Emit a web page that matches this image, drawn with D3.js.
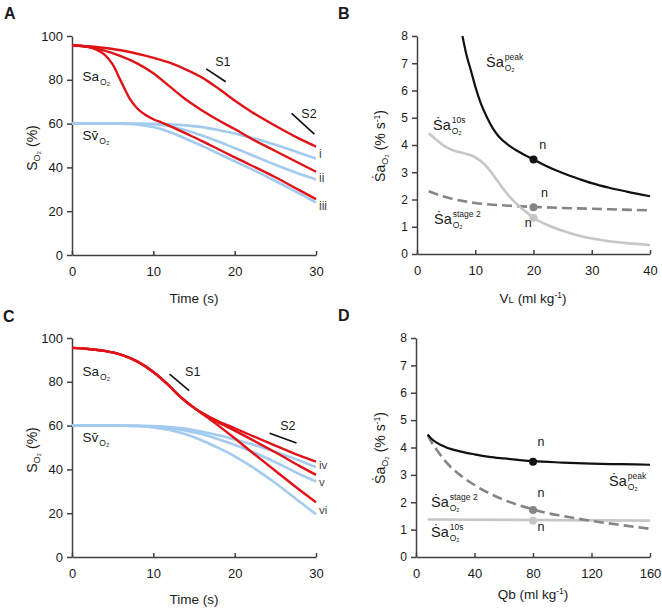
<!DOCTYPE html>
<html><head><meta charset="utf-8">
<script src="https://cdn.jsdelivr.net/npm/d3@7"></script>
<style>body{margin:0;background:#fff} text{font-family:"Liberation Sans",Arial,sans-serif;fill:#1a1a1a}</style>
</head><body><svg id="c" width="662" height="610"></svg>
<script>
// ---------- data ----------
const timeTicks=[0,10,20,30];
const satTicks=[0,20,40,60,80,100];
const vlTicks=[0,10,20,30,40];
const qbTicks=[0,40,80,120,160];
const rateTicks=[0,1,2,3,4,5,6,7,8];

// Panel A
const aSa_i=[[0,95.8],[3,95],[6,93.5],[9,91],[12,87.8],[14,84.7],[16,81],[18,76],[20,70.5],[22,65.5],[25,59],[28,53],[30,49.5]];
const aSa_ii=[[0,95.8],[2,95],[4,93.3],[6,90.8],[8,87.5],[10,83],[12,77],[14,71],[16,66],[18,61.5],[20,57.5],[22,53.2],[25,47.5],[28,41.8],[30,38]];
const aSa_iii=[[0,95.8],[2,95],[3,93.8],[4,91.5],[5,87],[6,79.5],[7,72],[8,67],[9,64],[10,62],[11,60.5],[12,59],[14,55.5],[16,52],[18,48.3],[20,44.6],[22,41],[25,35.5],[28,29.5],[30,25.5]];
const aSv_i=[[0,60],[6,60],[10,59.9],[12,59.7],[14,59.2],[16,58.4],[18,57.1],[20,55.5],[22,53.6],[25,50.3],[28,46.6],[30,44]];
const aSv_ii=[[0,60],[6,60],[8,59.95],[10,59.7],[12,58.8],[14,57],[16,54.6],[18,51.8],[20,48.8],[22,45.8],[25,41.2],[28,37],[30,34.5]];
const aSv_iii=[[0,60],[4,60],[6,59.9],[8,59.5],[10,58.4],[12,56.2],[14,53.1],[16,49.8],[18,46.3],[20,42.8],[22,39.3],[25,33.8],[28,28],[30,24]];
const aMarks=[{x1:16.5,y1:85,x2:18.9,y2:79.1,label:"S1",lx:17.6,ly:86.5},{x1:27,y1:64.7,x2:29.8,y2:55.2,label:"S2",lx:28.2,ly:62.6}];
const aRoman=[{t:"i",y:46},{t:"ii",y:35},{t:"iii",y:22.5}];

// Panel C
const cSa_iv=[[0,95.5],[2,95],[4,94.1],[6,92.4],[8,89.3],[10,84.5],[12,78],[13,74.3],[14,71],[15,68.2],[16,65.8],[17,63.8],[18,62],[20,58.8],[22,55.6],[25,50.9],[28,46.3],[30,43.5]];
const cSa_v=[[0,95.5],[2,95],[4,94.1],[6,92.4],[8,89.3],[10,84.5],[12,78],[13,74.3],[14,71],[15,68.2],[16,65.7],[17,63.5],[18,61.5],[20,57.7],[22,53.8],[25,47.8],[28,41.5],[30,37.5]];
const cSa_vi=[[0,95.5],[2,95],[4,94.1],[6,92.4],[8,89.3],[10,84.5],[12,78],[13,74.3],[14,71],[15,68.1],[16,65.4],[17,62.8],[18,60],[20,54.2],[22,48.2],[25,39.4],[28,30.6],[30,25]];
const cSv_iv=[[0,60],[6,60],[10,59.8],[12,59.3],[14,58.5],[16,57.2],[18,55.6],[20,53.7],[22,51.6],[25,48],[28,44],[30,41]];
const cSv_v=[[0,60],[6,60],[10,59.6],[12,58.9],[14,57.7],[16,56],[18,53.8],[20,51.2],[22,48.3],[25,43.3],[28,37.8],[30,34.5]];
const cSv_vi=[[0,60],[6,59.95],[8,59.8],[10,59.2],[12,58],[14,56],[16,53.2],[18,49.8],[20,46],[22,41.5],[25,33.8],[28,25.2],[30,19.5]];
const cMarks=[{x1:12,y1:83.5,x2:14.4,y2:76,label:"S1",lx:13.9,ly:82.5},{x1:24.3,y1:56.5,x2:27.6,y2:52,label:"S2",lx:25.6,ly:58}];
const cRoman=[{t:"iv",y:41.8},{t:"v",y:34.3},{t:"vi",y:21.5}];

// Panel B
const bPeak=[[7.8,8],[8.5,7.3],[9.3,6.7],[10,6.15],[11,5.5],[12,5.02],[13,4.62],[14,4.32],[16,3.95],[18,3.69],[20,3.47],[22,3.25],[25,2.97],[28,2.74],[30,2.6],[33,2.43],[36,2.29],[40,2.12]];
const b10s=[[2,4.43],[3,4.25],[4,4.07],[5,3.92],[6,3.82],[7,3.75],[8,3.7],[9,3.64],[10,3.55],[11,3.4],[12,3.2],[13,2.93],[14,2.63],[15,2.34],[16,2.08],[17,1.86],[18,1.67],[19,1.5],[20,1.33],[22,1.1],[25,0.85],[28,0.66],[30,0.57],[33,0.47],[36,0.4],[40,0.33]];
const bStage2=[[2,2.3],[4,2.15],[6,2.03],[8,1.94],[10,1.87],[13,1.81],[16,1.77],[20,1.73],[25,1.69],[30,1.66],[35,1.63],[40,1.6]];
const bPoints=[{x:20,y:3.47,c:"#111"},{x:20,y:1.72,c:"#858585"},{x:20,y:1.33,c:"#c6c6c6"}];
const bN=[{x:21,y:3.85},{x:21.3,y:2.1},{x:18.5,y:0.98}];

// Panel D
const dPeak=[[8,4.48],[10,4.35],[15,4.15],[20,4.02],[30,3.86],[40,3.75],[50,3.66],[60,3.6],[80,3.5],[100,3.45],[120,3.41],[140,3.39],[160,3.37]];
const dStage2=[[8,4.45],[10,4.25],[15,3.85],[20,3.5],[30,3.0],[40,2.63],[50,2.33],[60,2.09],[70,1.9],[80,1.74],[90,1.6],[100,1.5],[120,1.32],[140,1.17],[160,1.03]];
const d10s=[[8,1.37],[160,1.33]];
const dPoints=[{x:80,y:3.48,c:"#111"},{x:80,y:1.72,c:"#858585"},{x:80,y:1.32,c:"#c6c6c6"}];
const dN=[{x:83,y:4.05},{x:83,y:2.2},{x:83,y:0.95}];

// ---------- drawing ----------
const svg=d3.select("#c");
const RED="#e01418", BLUE="#a3caef", BLACK="#111", DGRAY="#858585", LGRAY="#c6c6c6", AX="#404040";

function panel(o){
  const x=d3.scaleLinear().domain(o.xd).range(o.xr);
  const y=d3.scaleLinear().domain(o.yd).range(o.yr);
  const g=svg.append("g");
  const xa=g.append("g").attr("transform",`translate(0,${o.yr[0]})`)
    .call(d3.axisBottom(x).tickValues(o.xt).tickSize(-4).tickSizeOuter(0).tickPadding(12));
  const ya=g.append("g").attr("transform",`translate(${o.xr[0]},0)`)
    .call(d3.axisLeft(y).tickValues(o.yt).tickSize(5).tickSizeOuter(0).tickPadding(4));
  [xa,ya].forEach(a=>{a.selectAll("path,line").attr("stroke",AX).attr("stroke-width",1.5);
    a.selectAll("text").attr("fill","#1a1a1a").style("font-size",o.fs+"px").attr("font-family",null);});
  xa.selectAll("text").style("font-size",o.xfs+"px");
  return {g,x,y};
}
const line=(x,y)=>d3.line().x(d=>x(d[0])).y(d=>y(d[1])).curve(d3.curveMonotoneX);
function drawLine(p,data,color,w,dash){
  p.g.append("path").datum(data).attr("d",line(p.x,p.y)).attr("fill","none")
   .attr("stroke",color).attr("stroke-width",w).attr("stroke-dasharray",dash||null)
   .attr("stroke-linecap","butt").attr("stroke-linejoin","round");
}
function panelLabel(t,x,y){svg.append("text").attr("x",x).attr("y",y).text(t).style("font-size","16px").style("font-weight","bold");}

function subLabel(g,x,y,main,sub,sup,fs){
  const t=g.append("text").attr("x",x).attr("y",y).style("font-size",fs+"px").text(main);
  const w=t.node().getComputedTextLength();
  if(sub) g.append("text").attr("x",x+w+1).attr("y",y+4).style("font-size","8.5px").text(sub);
  if(sup) g.append("text").attr("x",x+w+1).attr("y",y-7).style("font-size","8.5px").text(sup);
}

// Panel A
const pA=panel({xd:[0,30],xr:[72,316],yd:[0,100],yr:[255,36],xt:timeTicks,yt:satTicks,fs:13,xfs:13});
[aSv_i,aSv_ii,aSv_iii].forEach(d=>drawLine(pA,d,BLUE,2.6));
[aSa_i,aSa_ii,aSa_iii].forEach(d=>drawLine(pA,d,RED,2.4));
function marks(p,arr){
  arr.forEach(m=>{
    p.g.append("line").attr("x1",p.x(m.x1)).attr("y1",p.y(m.y1)).attr("x2",p.x(m.x2)).attr("y2",p.y(m.y2)).attr("stroke","#111").attr("stroke-width",1.6);
    p.g.append("text").attr("x",p.x(m.lx)).attr("y",p.y(m.ly)).style("font-size","12.5px").text(m.label);
  });
}
marks(pA,aMarks);
aRoman.forEach(r=>pA.g.append("text").attr("x",319).attr("y",pA.y(r.y)+4).style("font-size","12px").style("fill","#444").text(r.t));
subLabel(pA.g,pA.x(1.3),pA.y(79.5),"Sa","O₂",null,13.5);
subLabel(pA.g,pA.x(1.3),pA.y(52.5),"Sv̄","O₂",null,13.5);
panelLabel("A",4,19);

// Panel C
const pC=panel({xd:[0,30],xr:[72,316],yd:[0,100],yr:[557,338],xt:timeTicks,yt:satTicks,fs:13,xfs:13});
[cSv_iv,cSv_v,cSv_vi].forEach(d=>drawLine(pC,d,BLUE,2.6));
[cSa_iv,cSa_v,cSa_vi].forEach(d=>drawLine(pC,d,RED,2.4));
marks(pC,cMarks);
cRoman.forEach(r=>pC.g.append("text").attr("x",319).attr("y",pC.y(r.y)+4).style("font-size","11.5px").style("fill","#444").text(r.t));
subLabel(pC.g,pC.x(1.3),pC.y(82.5),"Sa","O₂",null,13.5);
subLabel(pC.g,pC.x(1.3),pC.y(52.5),"Sv̄","O₂",null,13.5);
panelLabel("C",3,322);

// Panel B
const pB=panel({xd:[0,40],xr:[417,650],yd:[0,8],yr:[254,36],xt:vlTicks,yt:rateTicks,fs:12,xfs:13});
drawLine(pB,bStage2,DGRAY,2.6,"10,5");
drawLine(pB,b10s,LGRAY,2.6);
drawLine(pB,bPeak,BLACK,2.2);
bPoints.forEach(p=>pB.g.append("circle").attr("cx",pB.x(p.x)).attr("cy",pB.y(p.y)).attr("r",4).attr("fill",p.c));
bN.forEach(n=>pB.g.append("text").attr("x",pB.x(n.x)).attr("y",pB.y(n.y)).style("font-size","12.5px").text("n"));
subLabel(pB.g,486,67,"Ṡa","O₂","peak",14.5);
subLabel(pB.g,433,130,"Ṡa","O₂","10s",14.5);
subLabel(pB.g,434,224,"Ṡa","O₂","stage 2",14.5);
panelLabel("B",338,19);

// Panel D
const pD=panel({xd:[0,160],xr:[416,650],yd:[0,8],yr:[557,338],xt:qbTicks,yt:rateTicks,fs:12,xfs:13});
drawLine(pD,d10s,LGRAY,2.6);
drawLine(pD,dStage2,DGRAY,2.6,"10,5");
drawLine(pD,dPeak,BLACK,2.2);
dPoints.forEach(p=>pD.g.append("circle").attr("cx",pD.x(p.x)).attr("cy",pD.y(p.y)).attr("r",4).attr("fill",p.c));
dN.forEach(n=>pD.g.append("text").attr("x",pD.x(n.x)).attr("y",pD.y(n.y)).style("font-size","12.5px").text("n"));
subLabel(pD.g,609,486,"Ṡa","O₂","peak",14.5);
subLabel(pD.g,431,507,"Ṡa","O₂","stage 2",14.5);
subLabel(pD.g,431,537,"Ṡa","O₂","10s",14.5);
panelLabel("D",338,321);

// axis titles
function xTitle(x,y,parts){
  const t=svg.append("text").attr("x",x).attr("y",y).attr("text-anchor","middle").style("font-size","13.5px");
  parts.forEach(p=>{const s=t.append("tspan").text(p.t); if(p.fs) s.style("font-size",p.fs+"px"); if(p.dy) s.attr("dy",p.dy);});
}
xTitle(194,303,[{t:"Time (s)"}]);
xTitle(194,604,[{t:"Time (s)"}]);
xTitle(533,303,[{t:"V"},{t:"L",fs:9.5},{t:" (ml kg"},{t:"-1",fs:8.5,dy:-5},{t:")",dy:5}]);
xTitle(533,599,[{t:"Qb (ml kg"},{t:"-1",fs:8.5,dy:-5},{t:")",dy:5}]);

function yTitle(cx,cy,parts){
  const t=svg.append("text").attr("transform",`translate(${cx},${cy}) rotate(-90)`).attr("text-anchor","middle").style("font-size","14px");
  parts.forEach(p=>{const s=t.append("tspan").text(p.t); if(p.fs) s.style("font-size",p.fs+"px"); if(p.dy) s.attr("dy",p.dy);});
}
yTitle(37,148,[{t:"S"},{t:"O₂",fs:9,dy:3},{t:"  (%)",dy:-3}]);
yTitle(37,450,[{t:"S"},{t:"O₂",fs:9,dy:3},{t:"  (%)",dy:-3}]);
yTitle(385,146,[{t:"Ṡa"},{t:"O₂",fs:9,dy:3},{t:" (% s",dy:-3},{t:"-1",fs:8.5,dy:-5},{t:")",dy:5}]);
yTitle(385,448,[{t:"Ṡa"},{t:"O₂",fs:9,dy:3},{t:" (% s",dy:-3},{t:"-1",fs:8.5,dy:-5},{t:")",dy:5}]);
</script></body></html>
